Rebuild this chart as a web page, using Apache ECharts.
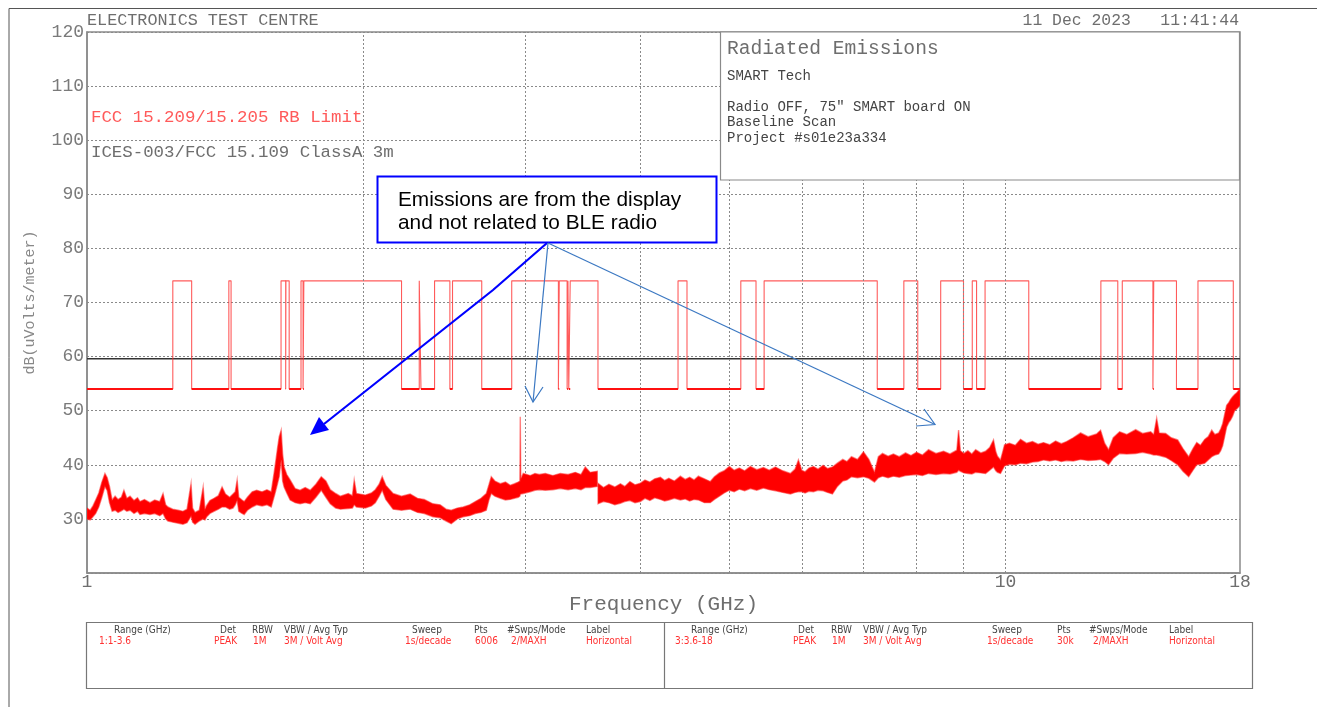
<!DOCTYPE html>
<html>
<head>
<meta charset="utf-8">
<script src="https://cdn.jsdelivr.net/npm/echarts@6/dist/echarts.min.js"></script>
<style>
html,body{margin:0;padding:0;background:#fff;}
#chart{width:1317px;height:707px;}
</style>
</head>
<body>
<div id="chart"></div>
<script>
// ---------- data ----------
// Range 1: 1 - 3.6 GHz (upper / lower edge of the peak trace, dBuV/m)
const seg1Freq = [1.000,1.008,1.015,1.022,1.030,1.038,1.046,1.052,1.058,1.065,1.073,1.081,1.090,1.097,1.105,1.114,1.125,1.135,1.142,1.155,1.171,1.185,1.200,1.210,1.218,1.225,1.240,1.257,1.272,1.285,1.298,1.303,1.311,1.325,1.338,1.344,1.350,1.361,1.375,1.390,1.403,1.415,1.430,1.442,1.450,1.457,1.463,1.475,1.483,1.495,1.513,1.530,1.551,1.570,1.587,1.602,1.612,1.619,1.627,1.633,1.639,1.650,1.664,1.685,1.706,1.728,1.750,1.775,1.799,1.820,1.840,1.865,1.887,1.925,1.945,1.954,1.965,2.009,2.040,2.060,2.080,2.096,2.115,2.154,2.200,2.248,2.290,2.329,2.380,2.424,2.460,2.492,2.530,2.568,2.610,2.647,2.685,2.721,2.740,2.755,2.780,2.818,2.855,2.889,2.920,2.948,2.960,2.9628,2.9665,2.985,3.038,3.074,3.107,3.155,3.215,3.275,3.340,3.401,3.450,3.487,3.530,3.594];
const seg1Hi = [32.0,31.6,32.4,33.5,34.8,36.8,38.4,37.6,36.0,33.5,34.2,33.6,34.0,35.3,33.8,34.2,33.4,33.9,33.2,33.6,33.0,33.5,33.2,34.7,32.6,32.2,31.8,31.6,31.4,31.8,36.5,32.0,31.2,31.6,35.9,31.8,32.5,33.4,33.8,34.3,35.9,34.6,34.0,34.6,35.0,37.2,34.0,33.5,33.2,34.0,35.0,35.3,35.0,35.4,35.0,39.6,43.0,45.2,46.4,42.0,39.6,38.2,37.2,35.6,35.3,35.8,35.3,36.4,37.8,37.0,35.4,34.7,34.2,34.7,34.3,37.2,34.7,34.4,34.8,35.4,36.4,37.8,36.2,34.7,34.2,34.6,33.8,33.6,32.8,32.6,31.8,31.6,32.0,32.2,32.6,33.2,33.8,34.7,36.4,37.8,37.0,36.5,36.8,36.2,36.5,36.8,37.0,48.9,37.4,38.4,38.0,38.4,38.2,38.4,38.0,38.4,38.2,38.6,38.2,39.6,38.6,38.8];
const seg1Lo = [30.0,29.8,30.4,31.0,32.2,34.0,36.0,35.2,33.0,31.4,31.6,31.2,31.5,31.8,31.4,31.6,31.0,31.4,30.8,31.0,30.8,31.0,30.6,31.0,30.0,29.6,29.4,29.2,29.0,29.3,30.5,29.4,29.0,29.6,30.0,29.8,30.4,31.0,31.4,31.8,32.2,32.2,31.8,32.0,32.6,33.4,31.4,31.0,30.8,31.6,32.2,32.6,32.4,32.6,32.2,34.7,36.5,37.8,40.9,37.0,35.9,34.8,33.5,33.0,32.8,33.0,32.8,34.0,35.3,34.0,32.8,32.0,31.8,31.9,32.0,32.6,32.2,32.0,32.4,33.0,34.2,35.3,33.6,31.8,31.6,31.8,31.2,31.0,30.4,30.2,29.6,29.1,30.0,30.4,30.6,31.0,31.2,31.6,33.6,34.7,34.2,33.8,33.5,33.6,33.8,34.0,34.2,34.5,34.6,34.7,35.0,35.3,35.4,35.3,35.4,35.6,35.4,35.6,35.4,35.8,35.8,36.0];
// Range 3: 3.6 - 18 GHz
const seg2Freq = [3.600,3.650,3.700,3.755,3.808,3.850,3.900,3.950,4.004,4.050,4.100,4.150,4.210,4.255,4.300,4.360,4.426,4.480,4.530,4.580,4.630,4.700,4.771,4.820,4.880,4.940,5.004,5.065,5.130,5.200,5.275,5.360,5.450,5.530,5.617,5.720,5.832,5.900,5.950,6.000,6.050,6.110,6.178,6.250,6.330,6.400,6.480,6.560,6.650,6.720,6.796,6.900,7.004,7.100,7.200,7.270,7.346,7.450,7.550,7.660,7.783,7.890,8.000,8.120,8.245,8.400,8.562,8.700,8.850,8.890,8.930,9.010,9.100,9.190,9.278,9.400,9.513,9.610,9.703,9.760,9.800,9.875,9.930,9.975,10.100,10.250,10.383,10.540,10.700,10.850,11.000,11.170,11.337,11.500,11.654,11.850,12.070,12.300,12.564,12.691,12.820,12.948,13.100,13.311,13.550,13.857,14.100,14.389,14.500,14.607,14.700,14.940,15.150,15.397,15.600,15.828,16.000,16.149,16.300,16.477,16.620,16.769,16.900,17.062,17.150,17.234,17.320,17.408,17.500,17.583,17.670,17.760,17.850,17.939,18.000];
const seg2Hi = [36.6,35.8,36.4,35.9,36.5,36.0,36.9,36.3,36.6,37.2,36.8,37.4,37.7,37.1,37.5,37.0,37.9,37.3,37.7,37.2,37.9,37.4,36.9,37.8,38.5,38.9,39.7,39.0,39.4,38.9,39.7,39.1,39.5,39.0,39.6,38.9,38.4,39.2,40.9,39.0,38.7,39.4,39.7,39.2,39.9,39.3,39.6,40.3,41.0,40.6,41.5,41.0,42.4,41.0,38.6,41.5,42.1,41.6,42.0,41.5,42.2,41.7,42.3,41.8,42.8,42.1,42.5,42.0,42.7,46.4,42.6,42.1,42.6,42.0,42.8,42.2,42.5,43.2,44.6,42.4,41.6,40.9,42.4,43.7,44.0,43.6,44.7,44.0,44.3,43.8,44.1,43.7,44.4,43.9,44.3,45.0,45.9,45.2,45.7,46.4,44.0,42.8,45.0,46.1,45.6,46.5,45.8,46.1,45.6,48.6,45.9,45.8,45.0,44.6,43.0,41.5,43.0,44.1,43.6,44.7,45.2,46.4,45.6,45.9,46.6,47.6,49.3,51.0,51.5,52.1,52.6,53.0,53.3,53.8,54.0];
const seg2Lo = [32.8,33.2,33.0,32.6,32.9,33.2,33.4,33.0,33.2,33.8,33.4,33.9,33.6,33.3,33.5,33.8,33.5,33.7,33.3,33.6,33.5,33.0,33.0,33.6,34.2,34.8,35.3,35.0,35.5,35.2,35.6,35.3,35.7,35.4,35.2,34.9,34.6,34.9,35.0,35.0,34.8,35.1,35.0,35.3,35.2,34.9,34.6,36.0,37.0,37.2,37.8,37.6,37.8,37.5,36.8,37.6,37.9,37.6,37.9,37.7,38.0,38.1,38.2,38.0,38.4,38.2,38.4,38.3,38.6,39.0,38.8,38.5,38.4,38.3,38.6,38.5,38.4,39.0,39.6,38.9,38.6,38.4,39.2,39.8,40.1,40.0,40.3,40.2,40.5,40.6,40.9,40.7,40.9,40.6,40.8,40.7,41.0,40.8,40.9,41.0,40.6,40.0,41.2,42.1,42.0,42.1,42.3,42.0,41.8,41.8,41.7,41.4,40.8,40.0,38.8,37.8,39.0,40.0,40.1,40.3,40.9,41.5,41.8,42.0,42.6,43.5,45.2,47.0,47.8,48.3,49.0,50.0,50.3,50.7,51.0];
// FCC 15.205 restricted bands (MHz) in the plotted span
const restrictedBandsMHz = [[1000,1240],[1300,1427],[1435,1626.5],[1645.5,1646.5],[1660,1710],[1718.8,1722.2],[2200,2300],[2310,2390],[2483.5,2500],[2690,2900],[3260,3267],[3332,3339],[3345.8,3358],[3600,4400],[4500,5150],[5350,5460],[7250,7750],[8025,8500],[9000,9200],[9300,9500],[10600,12700],[13250,13400],[14470,14500],[15350,16200],[17700,18000]];
const limitAvg = 54;     // dBuV/m
const limitPeak = 74;    // dBuV/m
const icesLimit = 59.6;  // dBuV/m
const freqMin = 1, freqMax = 18;
const xTickLabels = [1, 10, 18];
const gridFreqs = [2,3,4,5,6,7,8,9,10];
const yTicks = {min: 20, max: 120, step: 10};

// ---------- derived ----------
const limitPts = [[freqMin, limitAvg]];
const lowSegs = [];
restrictedBandsMHz.forEach(([s, e]) => {
  const sg = s / 1000, eg = e / 1000;
  if (sg > freqMin) { limitPts.push([sg, limitPeak], [sg, limitAvg]); }
  if (eg < freqMax) { limitPts.push([eg, limitAvg], [eg, limitPeak]); }
  else { limitPts.push([freqMax, limitAvg]); }
  lowSegs.push({coords: [[Math.max(sg, freqMin), limitAvg], [Math.min(eg, freqMax), limitAvg]]});
});
const segments = [
  {f: seg1Freq, hi: seg1Hi, lo: seg1Lo},
  {f: seg2Freq, hi: seg2Hi, lo: seg2Lo}
];

const MONO = '"Liberation Mono","DejaVu Sans Mono",monospace';
const GRAY = '#6e6e6e';

const chart = echarts.init(document.getElementById('chart'), null, {renderer: 'canvas'});

const gfx = [];
function txt(x, y, text, size, color, align, font, extra) {
  gfx.push(Object.assign({type: 'text', x: x, y: y, z: 100, silent: true,
    style: {text: text, fontSize: size, fill: color, fontFamily: font || MONO,
      align: align || 'left', verticalAlign: 'middle'}}, extra || {}));
}
// outer frame
gfx.push({type: 'polyline', z: 100, silent: true, shape: {points: [[9, 707], [9, 8.5], [1317, 8.5]]}, style: {stroke: '#555', lineWidth: 1, fill: null}});
// header
txt(87, 21, 'ELECTRONICS TEST CENTRE', 16.8, GRAY);
txt(1239, 21, '11 Dec 2023   11:41:44', 16.4, GRAY, 'right');
// limit names
txt(91, 117.5, 'FCC 15.209/15.205 RB Limit', 17.4, '#ff5a5a');
txt(91, 152.5, 'ICES-003/FCC 15.109 ClassA 3m', 17.4, GRAY);
// info box
gfx.push({type: 'rect', z: 99, silent: true, shape: {x: 720.5, y: 32, width: 519, height: 148}, style: {fill: '#fff', stroke: '#8a8a8a', lineWidth: 1.2}});
txt(727, 49, 'Radiated Emissions', 19.6, GRAY);
txt(727, 76, 'SMART Tech', 14, '#444');
txt(727, 107.5, 'Radio OFF, 75" SMART board ON', 14, '#444');
txt(727, 122.5, 'Baseline Scan', 14, '#444');
txt(727, 138, 'Project #s01e23a334', 14, '#444');
// annotation
gfx.push({type: 'rect', z: 101, silent: true, shape: {x: 377.5, y: 176.5, width: 339, height: 66}, style: {fill: '#fff', stroke: '#0000ff', lineWidth: 2}});
txt(398, 200, 'Emissions are from the display', 20.8, '#000', 'left', '"Liberation Sans",Arial,sans-serif', {z: 102});
txt(398, 223.5, 'and not related to BLE radio', 20.8, '#000', 'left', '"Liberation Sans",Arial,sans-serif', {z: 102});
gfx.push({type: 'polyline', z: 101, silent: true, shape: {points: [[547, 243], [493, 290], [324, 424]]}, style: {stroke: '#0000ff', lineWidth: 2.2, fill: null}});
gfx.push({type: 'polygon', z: 101, silent: true, shape: {points: [[310, 435], [329, 430], [319, 417]]}, style: {fill: '#0000ff'}});
gfx.push({type: 'polyline', z: 101, silent: true, shape: {points: [[548, 243], [533, 402]]}, style: {stroke: '#3b78c2', lineWidth: 1.2, fill: null}});
gfx.push({type: 'polyline', z: 101, silent: true, shape: {points: [[525, 386], [533, 402], [543, 387]]}, style: {stroke: '#3b78c2', lineWidth: 1.2, fill: null}});
gfx.push({type: 'polyline', z: 101, silent: true, shape: {points: [[548, 243], [935, 424.5]]}, style: {stroke: '#3b78c2', lineWidth: 1.2, fill: null}});
gfx.push({type: 'polyline', z: 101, silent: true, shape: {points: [[924, 409], [935, 424.5], [916, 426]]}, style: {stroke: '#3b78c2', lineWidth: 1.2, fill: null}});
// bottom table
gfx.push({type: 'rect', z: 100, silent: true, shape: {x: 86.5, y: 622.5, width: 1166, height: 66}, style: {fill: null, stroke: '#777', lineWidth: 1.2}});
gfx.push({type: 'line', z: 100, silent: true, shape: {x1: 664.5, y1: 622.5, x2: 664.5, y2: 688.5}, style: {stroke: '#777', lineWidth: 1.2}});
const TF = '"DejaVu Sans Condensed","Liberation Sans Narrow","DejaVu Sans",sans-serif';
const hdr = ['Range (GHz)', 'Det', 'RBW', 'VBW / Avg Typ', 'Sweep', 'Pts', '#Swps/Mode', 'Label'];
const hdrX1 = [114, 220, 252, 284, 412, 474, 507, 586];
const hdrX2 = [691, 798, 831, 863, 992, 1057, 1089, 1169];
const row1 = ['1:1-3.6', 'PEAK', '1M', '3M / Volt Avg', '1s/decade', '6006', '2/MAXH', 'Horizontal'];
const row1X = [99, 214, 253, 284, 405, 475, 511, 586];
const row2 = ['3:3.6-18', 'PEAK', '1M', '3M / Volt Avg', '1s/decade', '30k', '2/MAXH', 'Horizontal'];
const row2X = [675, 793, 832, 863, 987, 1057, 1093, 1169];
hdr.forEach((h, i) => { txt(hdrX1[i], 630, h, 10, '#444', 'left', TF); txt(hdrX2[i], 630, h, 10, '#444', 'left', TF); });
row1.forEach((t, i) => txt(row1X[i], 641, t, 10, '#ff3030', 'left', TF));
row2.forEach((t, i) => txt(row2X[i], 641, t, 10, '#ff3030', 'left', TF));

const option = {
  animation: false,
  backgroundColor: '#fff',
  grid: {left: 87, right: 77, top: 32, bottom: 134, show: true, borderColor: '#8a8a8a', borderWidth: 1.5, backgroundColor: 'transparent', outerBoundsMode: 'none'},
  xAxis: {
    type: 'log', logBase: 10, min: freqMin, max: freqMax,
    name: 'Frequency (GHz)', nameLocation: 'middle', nameGap: 21, nameMoveOverlap: false,
    nameTextStyle: {fontFamily: MONO, fontSize: 21, color: GRAY},
    axisLine: {show: true, lineStyle: {color: '#8a8a8a', width: 1.5}},
    axisTick: {show: false},
    splitLine: {show: false},
    axisLabel: {customValues: xTickLabels, fontFamily: MONO, fontSize: 18, color: GRAY, margin: 0, showMinLabel: true, showMaxLabel: true, hideOverlap: false,
      formatter: v => String(Math.round(v))}
  },
  yAxis: {
    type: 'value', min: yTicks.min, max: yTicks.max, interval: yTicks.step,
    name: 'dB(uVolts/meter)', nameLocation: 'middle', nameGap: 49, nameRotate: 90, nameMoveOverlap: false,
    nameTextStyle: {fontFamily: MONO, fontSize: 15, color: '#888'},
    axisLine: {show: true, lineStyle: {color: '#8a8a8a', width: 1.5}},
    axisTick: {show: false},
    splitLine: {show: true, lineStyle: {type: [2, 2], color: '#8a8a8a', width: 1}},
    axisLabel: {fontFamily: MONO, fontSize: 18, color: '#7a7a7a', margin: 3,
      formatter: v => (v === yTicks.min ? '' : String(v))}
  },
  graphic: gfx,
  series: [
    {
      name: 'ICES-003/FCC 15.109 ClassA 3m', type: 'line', symbol: 'none', z: 3,
      data: [[freqMin, icesLimit], [freqMax, icesLimit]],
      lineStyle: {color: '#333', width: 1.6},
      markLine: {symbol: 'none', silent: true, label: {show: false}, animation: false,
        lineStyle: {type: [2, 2], color: '#8a8a8a', width: 1},
        data: gridFreqs.map(v => ({xAxis: v}))}
    },
    {
      name: 'FCC 15.209/15.205 RB Limit', type: 'line', symbol: 'none', z: 4,
      data: limitPts, lineStyle: {color: 'rgba(255,50,50,0.8)', width: 1.1}
    },
    {
      name: 'RB Limit avg', type: 'lines', coordinateSystem: 'cartesian2d', z: 5,
      data: lowSegs, lineStyle: {color: '#ff1010', width: 2, opacity: 1}
    },
    {
      name: 'Peak trace', type: 'custom', z: 6, clip: true,
      data: segments.map(s => [s.f[0], s.lo[0]]),
      renderItem: function (params, api) {
        const s = segments[params.dataIndex];
        const pts = [];
        for (let i = 0; i < s.f.length; i++) pts.push(api.coord([s.f[i], s.hi[i]]));
        for (let i = s.f.length - 1; i >= 0; i--) pts.push(api.coord([s.f[i], s.lo[i]]));
        return {type: 'polygon', shape: {points: pts},
          style: {fill: '#ff0000', stroke: 'rgba(255,40,40,0.55)', lineWidth: 1.4}};
      }
    }
  ]
};
chart.setOption(option);
</script>
</body>
</html>
